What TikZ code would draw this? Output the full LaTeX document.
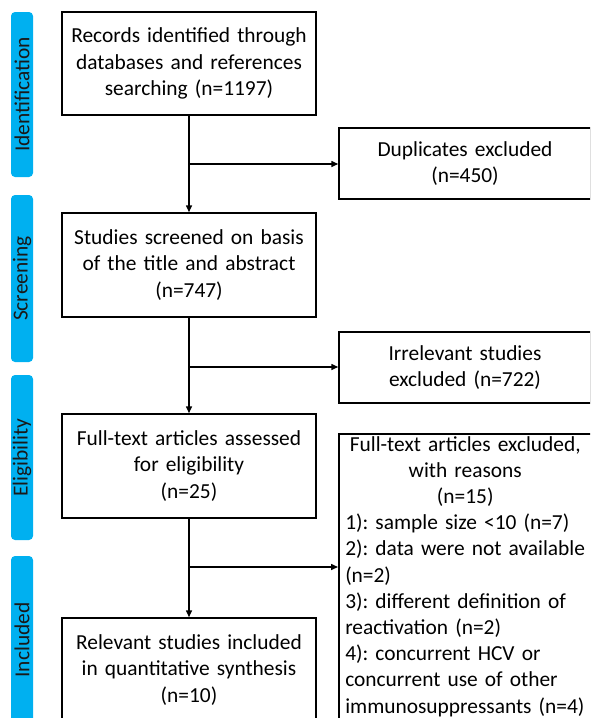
\documentclass[tikz,border=0pt]{standalone}
\usepackage{fontspec}
\setmainfont{Carlito}
\usetikzlibrary{arrows.meta}
\definecolor{barblue}{HTML}{00B0F0}
\frenchspacing
\tikzset{
  box/.style={draw=black, line width=1.5pt, align=center, inner sep=2pt,
    font=\fontsize{21.4}{26.2}\selectfont},
  bar/.style={fill=barblue, rounded corners=4pt, draw=none},
  bartext/.style={rotate=90, font=\fontsize{21.4}{26}\selectfont, text=black!90},
  conn/.style={line width=1.5pt, draw=black},
  arr/.style={conn, -{Triangle[length=7pt,width=6pt]}}
}
\begin{document}
\begin{tikzpicture}[x=1pt,y=-1pt]
\path[use as bounding box, clip] (0,0) rectangle (590,718);
% stage bars
\fill[bar] (11,12) rectangle (33,177);
\node[bartext] (lb1) at (22,94.5) {Identification};
\fill[bar] (11,195) rectangle (33,362);
\node[bartext] (lb2) at (22,278.5) {Screening};
\fill[bar] (11,375) rectangle (33,540);
\node[bartext] (lb3) at (22,457.5) {Eligibility};
\fill[bar] (11,556) rectangle (33,730);
\node[bartext] (lb4) at (22,640) {Included};
% boxes
\node[box, minimum width=254pt, minimum height=103pt, text width=250pt] (b1) at (189,63.5)
  {Records identified through\\databases and references\\searching (n=1197)};
\node[box, minimum width=252pt, minimum height=71pt, text width=248pt] (b2) at (465,163.5)
  {Duplicates excluded\\(n=450)};
\node[box, minimum width=254pt, minimum height=104pt, text width=250pt] (b3) at (189,265)
  {Studies screened on basis\\of the title and abstract\\(n=747)};
\node[box, minimum width=252pt, minimum height=71pt, text width=248pt] (b4) at (465,367.5)
  {Irrelevant studies\\excluded (n=722)};
\node[box, minimum width=254pt, minimum height=104pt, text width=250pt] (b5) at (189,466)
  {Full-text articles assessed\\for eligibility\\(n=25)};
\node[box, anchor=north west, minimum width=253pt, text width=253pt,
  align=left, inner xsep=0pt, inner ysep=2.5pt] (b6) at (338,433)
  {\centering Full-text articles excluded,\\with reasons\\(n=15)\par
   \raggedright\leftskip=6.5pt \mbox{1): sample size <10 (n=7)}\\\mbox{2): data were not available}\\(n=2)\\\mbox{3): different definition of}\\\mbox{reactivation (n=2)}\\\mbox{4): concurrent HCV or}\\\mbox{concurrent use of other}\\\mbox{immunosuppressants (n=4)}\par\vspace*{20pt}};
\node[box, minimum width=254pt, minimum height=104pt, text width=250pt] (b7) at (189,670)
  {Relevant studies included\\in quantitative synthesis\\(n=10)};
% junctions
\coordinate (j1) at (b1.south |- 0,164);
\coordinate (j2) at (b3.south |- 0,367);
\coordinate (j3) at (b5.south |- 0,567);
% connectors
\draw[arr] (b1.south) -- (b3.north);
\draw[arr] (j1) -- (j1 -| b2.west);
\draw[arr] (b3.south) -- (b5.north);
\draw[arr] (j2) -- (j2 -| b4.west);
\draw[arr] (b5.south) -- (b7.north);
\draw[arr] (j3) -- (j3 -| b6.west);
\end{tikzpicture}
\end{document}
